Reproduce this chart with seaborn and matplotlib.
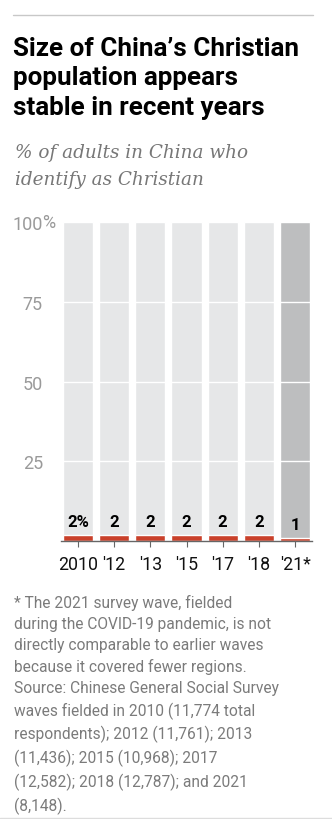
import matplotlib
matplotlib.use("Agg")
import matplotlib.pyplot as plt
import seaborn as sns
from matplotlib.lines import Line2D

# ---- data ----
years = ["2010", "'12", "'13", "'15", "'17", "'18", "'21*"]
values = [2, 2, 2, 2, 2, 2, 1]
value_labels = ["2%", "2", "2", "2", "2", "2", "1"]
ytick_vals = [0, 25, 50, 75, 100]
ytick_labels = ["", "25", "50", "75", "100"]

title = "Size of China\u2019s Christian\npopulation appears\nstable in recent years"
subtitle = "% of adults in China who\nidentify as Christian"
footnote = ("* The 2021 survey wave, fielded\n"
            "during the COVID-19 pandemic, is not\n"
            "directly comparable to earlier waves\n"
            "because it covered fewer regions.\n"
            "Source: Chinese General Social Survey\n"
            "waves fielded in 2010 (11,774 total\n"
            "respondents); 2012 (11,761); 2013\n"
            "(11,436); 2015 (10,968); 2017\n"
            "(12,582); 2018 (12,787); and 2021\n"
            "(8,148).")

sns.set_theme(style="white")
plt.rcParams['font.family'] = ['Roboto', 'DejaVu Sans']

W, H = 332, 820
fig = plt.figure(figsize=(W / 100, H / 100), dpi=100)
fig.patch.set_facecolor("white")

def fx(px):
    return px / W

def fy(py):
    return 1 - py / H

# top rule
fig.add_artist(Line2D([fx(13), fx(313)], [fy(16), fy(16)], color="#c8c8c8", lw=1.0))

fig.text(fx(13), fy(37), title, fontsize=18.7, fontweight="bold", color="#000000",
         va="top", ha="left", linespacing=1.28)
fig.text(fx(15), fy(144), subtitle, fontsize=13.2, fontstyle="italic", color="#777777",
         va="top", ha="left", family=["DejaVu Serif"], linespacing=1.62)

ax = fig.add_axes([fx(61), fy(542), fx(312) - fx(61), fy(223) - fy(542)])
ax.set_facecolor("white")

bg_vals = [100] * len(years)
bg_colors = ["#e6e7e8"] * (len(years) - 1) + ["#bdbebf"]
sns.barplot(x=years, y=bg_vals, hue=years, palette=bg_colors, legend=False,
            width=0.83, ax=ax, saturation=1, zorder=1)
for g in [25, 50, 75]:
    ax.axhline(g, color="white", lw=1.0, zorder=2)

red = "#c9402a"
sns.barplot(x=years, y=values, hue=years, palette=[red] * len(years), legend=False,
            width=0.83, ax=ax, saturation=1, zorder=3)

for i, (v, lab) in enumerate(zip(values, value_labels)):
    ax.annotate(lab, xy=(i, v), xytext=(0, 4), textcoords="offset points",
                ha="center", va="bottom", fontsize=12, fontweight="bold",
                color="#000000", zorder=4)

ax.set_xlim(-0.47, 6.47)
ax.set_ylim(0, 100)
ax.set_yticks(ytick_vals)
ax.set_yticklabels(ytick_labels)
ax.set_xlabel("")
ax.set_ylabel("")
for s in ["top", "right", "left"]:
    ax.spines[s].set_visible(False)
ax.spines["bottom"].set_color("#666666")
ax.spines["bottom"].set_linewidth(1.0)
ax.spines["bottom"].set_zorder(5)
ax.tick_params(axis="x", length=4.5, width=0.8, color="#666666", pad=5.5,
               labelsize=12.8, labelcolor="#111111", bottom=True)
ax.tick_params(axis="y", length=0, pad=13, labelsize=13, labelcolor="#9a9a9a")
# percent sign hanging after the 100 label
ax.annotate("%", xy=(0, 100), xycoords=("axes fraction", "data"),
            xytext=(-13.8, 0), textcoords="offset points", ha="left", va="center",
            fontsize=13, color="#9a9a9a", annotation_clip=False)

fig.text(fx(14), fy(595), footnote, fontsize=11.2, color="#7b7b7b",
         va="top", ha="left", linespacing=1.485)

fig.add_artist(Line2D([0, 1], [fy(819), fy(819)], color="#dddddd", lw=1.0))

fig.savefig("out.png", dpi=100, facecolor="white")
